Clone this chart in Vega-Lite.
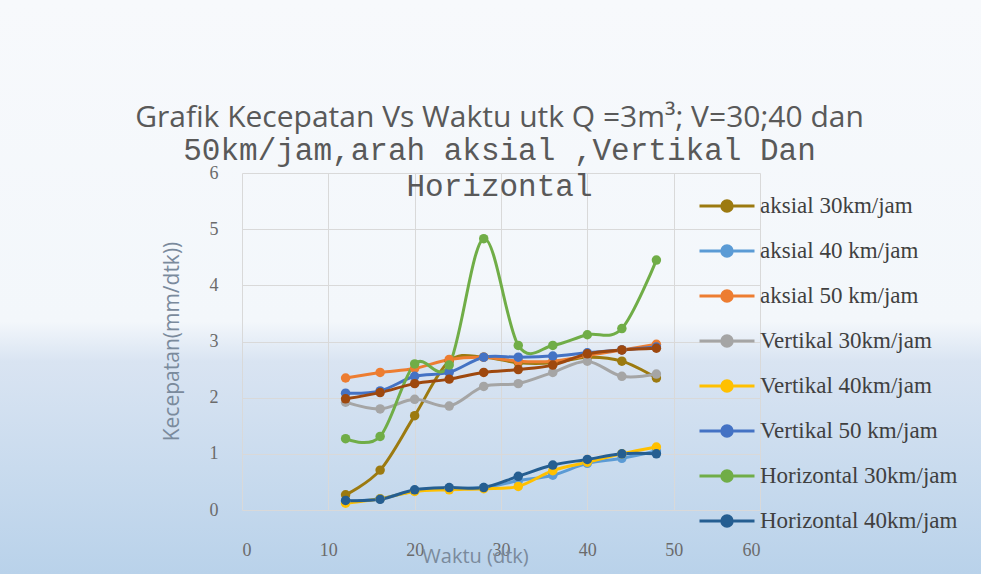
{
  "$schema": "https://vega.github.io/schema/vega-lite/v6.json",
  "width": 981,
  "height": 574,
  "autosize": {"type": "none"},
  "padding": 0,
  "background": "#ffffff",
  "config": {
    "view": {
      "stroke": null,
      "fill": {
        "gradient": "linear",
        "x1": 0, "y1": 0, "x2": 0, "y2": 1,
        "stops": [
          {"offset": 0, "color": "#f7f9fc"},
          {"offset": 0.56, "color": "#f3f7fb"},
          {"offset": 0.63, "color": "#d9e4f2"},
          {"offset": 1, "color": "#b9d2ea"}
        ]
      }
    }
  },
  "title": {
    "text": "Grafik Kecepatan Vs Waktu utk Q =3m³;  V=30;40 dan",
    "subtitle": ["50km/jam,arah aksial ,Vertikal Dan", "Horizontal"],
    "anchor": "middle",
    "frame": "group",
    "offset": -202,
    "dx": 9,
    "font": "Open Sans",
    "fontSize": 30,
    "fontWeight": "normal",
    "color": "#595959",
    "subtitleFont": "Liberation Mono",
    "subtitleFontSize": 31,
    "subtitleColor": "#595959",
    "subtitleLineHeight": 36,
    "subtitlePadding": 3
  },
  "data": {"values": [
    {"t": 12, "s": "aksial 30km/jam", "v": 0.27},
    {"t": 16, "s": "aksial 30km/jam", "v": 0.71},
    {"t": 20, "s": "aksial 30km/jam", "v": 1.68},
    {"t": 24, "s": "aksial 30km/jam", "v": 2.65},
    {"t": 28, "s": "aksial 30km/jam", "v": 2.72},
    {"t": 32, "s": "aksial 30km/jam", "v": 2.62},
    {"t": 36, "s": "aksial 30km/jam", "v": 2.62},
    {"t": 40, "s": "aksial 30km/jam", "v": 2.72},
    {"t": 44, "s": "aksial 30km/jam", "v": 2.65},
    {"t": 48, "s": "aksial 30km/jam", "v": 2.35},
    {"t": 12, "s": "aksial 40 km/jam", "v": 0.15},
    {"t": 16, "s": "aksial 40 km/jam", "v": 0.2},
    {"t": 20, "s": "aksial 40 km/jam", "v": 0.34},
    {"t": 24, "s": "aksial 40 km/jam", "v": 0.38},
    {"t": 28, "s": "aksial 40 km/jam", "v": 0.4},
    {"t": 32, "s": "aksial 40 km/jam", "v": 0.52},
    {"t": 36, "s": "aksial 40 km/jam", "v": 0.62},
    {"t": 40, "s": "aksial 40 km/jam", "v": 0.83},
    {"t": 44, "s": "aksial 40 km/jam", "v": 0.92},
    {"t": 48, "s": "aksial 40 km/jam", "v": 1.05},
    {"t": 12, "s": "aksial 50 km/jam", "v": 2.35},
    {"t": 16, "s": "aksial 50 km/jam", "v": 2.45},
    {"t": 20, "s": "aksial 50 km/jam", "v": 2.52},
    {"t": 24, "s": "aksial 50 km/jam", "v": 2.68},
    {"t": 28, "s": "aksial 50 km/jam", "v": 2.72},
    {"t": 32, "s": "aksial 50 km/jam", "v": 2.65},
    {"t": 36, "s": "aksial 50 km/jam", "v": 2.65},
    {"t": 40, "s": "aksial 50 km/jam", "v": 2.75},
    {"t": 44, "s": "aksial 50 km/jam", "v": 2.85},
    {"t": 48, "s": "aksial 50 km/jam", "v": 2.95},
    {"t": 12, "s": "Vertikal 30km/jam", "v": 1.92},
    {"t": 16, "s": "Vertikal 30km/jam", "v": 1.8},
    {"t": 20, "s": "Vertikal 30km/jam", "v": 1.97},
    {"t": 24, "s": "Vertikal 30km/jam", "v": 1.85},
    {"t": 28, "s": "Vertikal 30km/jam", "v": 2.2},
    {"t": 32, "s": "Vertikal 30km/jam", "v": 2.25},
    {"t": 36, "s": "Vertikal 30km/jam", "v": 2.45},
    {"t": 40, "s": "Vertikal 30km/jam", "v": 2.65},
    {"t": 44, "s": "Vertikal 30km/jam", "v": 2.38},
    {"t": 48, "s": "Vertikal 30km/jam", "v": 2.42},
    {"t": 12, "s": "Vertikal 40km/jam", "v": 0.12},
    {"t": 16, "s": "Vertikal 40km/jam", "v": 0.2},
    {"t": 20, "s": "Vertikal 40km/jam", "v": 0.33},
    {"t": 24, "s": "Vertikal 40km/jam", "v": 0.36},
    {"t": 28, "s": "Vertikal 40km/jam", "v": 0.38},
    {"t": 32, "s": "Vertikal 40km/jam", "v": 0.42},
    {"t": 36, "s": "Vertikal 40km/jam", "v": 0.7},
    {"t": 40, "s": "Vertikal 40km/jam", "v": 0.85},
    {"t": 44, "s": "Vertikal 40km/jam", "v": 1.0},
    {"t": 48, "s": "Vertikal 40km/jam", "v": 1.12},
    {"t": 12, "s": "Vertikal 50 km/jam", "v": 2.08},
    {"t": 16, "s": "Vertikal 50 km/jam", "v": 2.12},
    {"t": 20, "s": "Vertikal 50 km/jam", "v": 2.38},
    {"t": 24, "s": "Vertikal 50 km/jam", "v": 2.45},
    {"t": 28, "s": "Vertikal 50 km/jam", "v": 2.72},
    {"t": 32, "s": "Vertikal 50 km/jam", "v": 2.72},
    {"t": 36, "s": "Vertikal 50 km/jam", "v": 2.74},
    {"t": 40, "s": "Vertikal 50 km/jam", "v": 2.8},
    {"t": 44, "s": "Vertikal 50 km/jam", "v": 2.85},
    {"t": 48, "s": "Vertikal 50 km/jam", "v": 2.9},
    {"t": 12, "s": "Horizontal 30km/jam", "v": 1.27},
    {"t": 16, "s": "Horizontal 30km/jam", "v": 1.31},
    {"t": 20, "s": "Horizontal 30km/jam", "v": 2.6},
    {"t": 24, "s": "Horizontal 30km/jam", "v": 2.58},
    {"t": 28, "s": "Horizontal 30km/jam", "v": 4.83},
    {"t": 32, "s": "Horizontal 30km/jam", "v": 2.93},
    {"t": 36, "s": "Horizontal 30km/jam", "v": 2.93},
    {"t": 40, "s": "Horizontal 30km/jam", "v": 3.12},
    {"t": 44, "s": "Horizontal 30km/jam", "v": 3.23},
    {"t": 48, "s": "Horizontal 30km/jam", "v": 4.45},
    {"t": 12, "s": "Horizontal 40km/jam", "v": 0.17},
    {"t": 16, "s": "Horizontal 40km/jam", "v": 0.19},
    {"t": 20, "s": "Horizontal 40km/jam", "v": 0.36},
    {"t": 24, "s": "Horizontal 40km/jam", "v": 0.4},
    {"t": 28, "s": "Horizontal 40km/jam", "v": 0.4},
    {"t": 32, "s": "Horizontal 40km/jam", "v": 0.6},
    {"t": 36, "s": "Horizontal 40km/jam", "v": 0.8},
    {"t": 40, "s": "Horizontal 40km/jam", "v": 0.9},
    {"t": 44, "s": "Horizontal 40km/jam", "v": 1.0},
    {"t": 48, "s": "Horizontal 40km/jam", "v": 1.0},
    {"t": 12, "s": "Horizontal 50km/jam", "v": 1.98},
    {"t": 16, "s": "Horizontal 50km/jam", "v": 2.09},
    {"t": 20, "s": "Horizontal 50km/jam", "v": 2.25},
    {"t": 24, "s": "Horizontal 50km/jam", "v": 2.33},
    {"t": 28, "s": "Horizontal 50km/jam", "v": 2.45},
    {"t": 32, "s": "Horizontal 50km/jam", "v": 2.5},
    {"t": 36, "s": "Horizontal 50km/jam", "v": 2.58},
    {"t": 40, "s": "Horizontal 50km/jam", "v": 2.78},
    {"t": 44, "s": "Horizontal 50km/jam", "v": 2.85},
    {"t": 48, "s": "Horizontal 50km/jam", "v": 2.88}
  ]},
  "mark": {
    "type": "line",
    "interpolate": "cardinal",
    "strokeWidth": 3,
    "point": {"filled": true, "size": 90, "opacity": 1}
  },
  "encoding": {
    "x": {
      "field": "t",
      "type": "quantitative",
      "scale": {"domain": [0, 60], "range": [242, 760], "nice": false, "zero": false},
      "axis": {
        "values": [0, 10, 20, 30, 40, 50, 60],
        "offset": -64,
        "grid": false,
        "domain": false,
        "ticks": true,
        "tickSize": -337,
        "tickColor": "#d9d9d9",
        "tickWidth": 1,
        "labelPadding": 368,
        "labelFont": "Liberation Serif",
        "labelFontSize": 18,
        "labelColor": "#6b6b6b",
        "title": "Waktu (dtk)",
        "titleFont": "Open Sans",
        "titleFontSize": 20,
        "titleFontWeight": "normal",
        "titleColor": "#7a8a9c",
        "titleX": 475,
        "titleY": 36,
        "titleAlign": "center",
        "titleBaseline": "top"
      }
    },
    "y": {
      "field": "v",
      "type": "quantitative",
      "scale": {"domain": [0, 6], "range": [510, 173], "nice": false, "zero": false},
      "axis": {
        "values": [0, 1, 2, 3, 4, 5, 6],
        "offset": -242,
        "grid": false,
        "domain": false,
        "ticks": true,
        "tickSize": -518,
        "tickColor": "#d9d9d9",
        "tickWidth": 1,
        "labelPadding": 542,
        "labelFont": "Liberation Serif",
        "labelFontSize": 18,
        "labelColor": "#6b6b6b",
        "title": "Kecepatan(mm/dtk))",
        "titleFont": "Open Sans",
        "titleFontSize": 21,
        "titleFontWeight": "normal",
        "titleColor": "#7a8a9c",
        "titleX": -70,
        "titleY": 341,
        "titleAngle": -90,
        "titleAlign": "center",
        "titleBaseline": "middle"
      }
    },
    "color": {
      "field": "s",
      "type": "nominal",
      "sort": null,
      "scale": {
        "domain": ["aksial 30km/jam", "aksial 40 km/jam", "aksial 50 km/jam", "Vertikal 30km/jam", "Vertikal 40km/jam", "Vertikal 50 km/jam", "Horizontal 30km/jam", "Horizontal 40km/jam", "Horizontal 50km/jam"],
        "range": ["#9c7a10", "#5b9bd5", "#ed7d31", "#a5a5a5", "#ffc000", "#4472c4", "#70ad47", "#255e91", "#9e480e"]
      },
      "legend": {
        "values": ["aksial 30km/jam", "aksial 40 km/jam", "aksial 50 km/jam", "Vertikal 30km/jam", "Vertikal 40km/jam", "Vertikal 50 km/jam", "Horizontal 30km/jam", "Horizontal 40km/jam"],
        "title": null,
        "orient": "none",
        "legendX": 698,
        "legendY": 177,
        "direction": "vertical",
        "symbolType": "M-1,0H1M-0.19,0A0.19,0.19,0,1,1,0.19,0A0.19,0.19,0,1,1,-0.19,0Z",
        "symbolSize": 3025,
        "symbolStrokeWidth": 3,
        "labelFont": "Liberation Serif",
        "labelFontSize": 23,
        "labelColor": "#404040",
        "labelOffset": 4,
        "labelLimit": 400,
        "rowPadding": 4,
        "encode": {
          "symbols": {
            "update": {
              "fill": {"scale": "color", "field": "value"},
              "stroke": {"scale": "color", "field": "value"},
              "opacity": {"value": 1}
            }
          }
        }
      }
    }
  }
}
